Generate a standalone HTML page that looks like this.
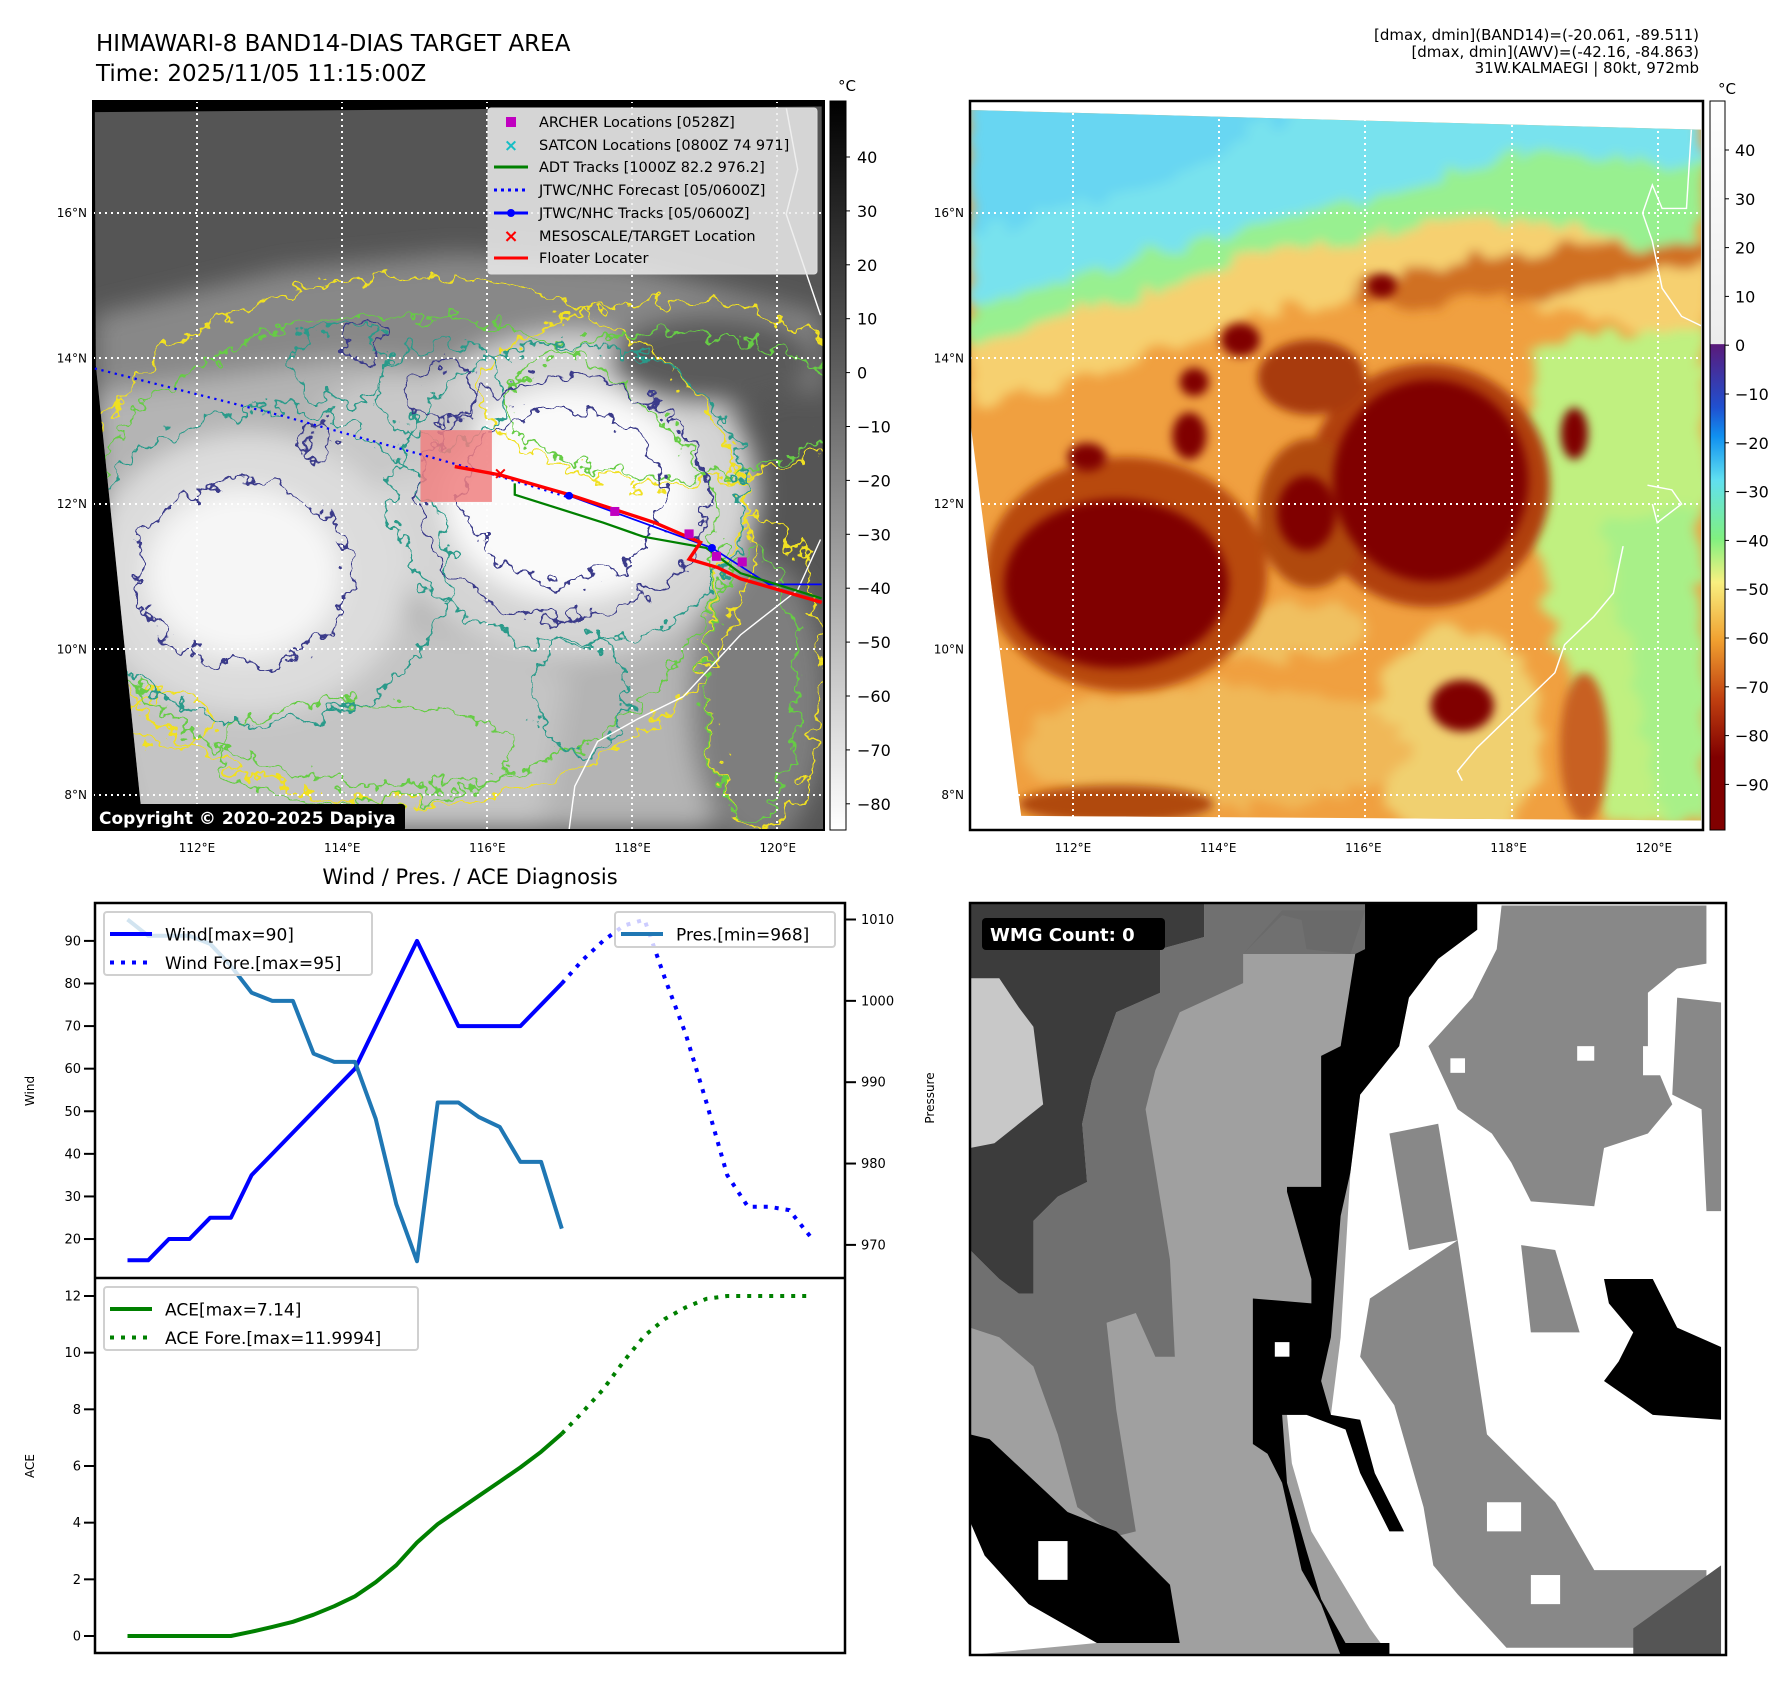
<!DOCTYPE html>
<html><head><meta charset="utf-8"><style>
html,body{margin:0;padding:0;background:#fff}
svg{display:block;font-family:"DejaVu Sans","Liberation Sans",sans-serif}
</style></head><body>
<svg id="fig" width="1788" height="1690" viewBox="0 0 1788 1690" xmlns="http://www.w3.org/2000/svg">
<defs>
<filter id="blur1" x="-20%" y="-20%" width="140%" height="140%"><feGaussianBlur stdDeviation="22"/></filter>
<filter id="blur2" x="-20%" y="-20%" width="140%" height="140%"><feGaussianBlur stdDeviation="10"/></filter>
<filter id="wob" x="-10%" y="-10%" width="120%" height="120%"><feTurbulence type="fractalNoise" baseFrequency="0.03" numOctaves="3" seed="3" result="n"/><feDisplacementMap in="SourceGraphic" in2="n" scale="70" xChannelSelector="R" yChannelSelector="G"/></filter>
<filter id="wob2" x="-10%" y="-10%" width="120%" height="120%"><feTurbulence type="fractalNoise" baseFrequency="0.015" numOctaves="3" seed="7" result="n"/><feDisplacementMap in="SourceGraphic" in2="n" scale="80" xChannelSelector="R" yChannelSelector="G"/><feGaussianBlur stdDeviation="12"/></filter>
<linearGradient id="cbGray" x1="0" y1="0" x2="0" y2="1"><stop offset="0" stop-color="#000"/><stop offset="1" stop-color="#fff"/></linearGradient>
<linearGradient id="cbCol" x1="0" y1="0" x2="0" y2="1">
<stop offset="0" stop-color="#fff"/><stop offset="0.333" stop-color="#ececec"/><stop offset="0.334" stop-color="#5a1a7a"/>
<stop offset="0.42" stop-color="#2050d0"/><stop offset="0.46" stop-color="#1090f0"/><stop offset="0.52" stop-color="#60e0f0"/>
<stop offset="0.6" stop-color="#80f080"/><stop offset="0.66" stop-color="#f8f080"/><stop offset="0.74" stop-color="#f0a030"/>
<stop offset="0.82" stop-color="#c04010"/><stop offset="0.9" stop-color="#800000"/><stop offset="1" stop-color="#800000"/></linearGradient>
<clipPath id="clipL"><polygon points="170,198 1442,188 1446,1478 255,1478 172,650"/></clipPath>
<clipPath id="clipR"><polygon points="0,20 1500,62 1500,1535 105,1525 0,680"/></clipPath>
<clipPath id="clipW"><rect x="0" y="5" width="1550" height="1550"/></clipPath>
</defs>

<text x="96" y="51" font-size="23">HIMAWARI-8 BAND14-DIAS TARGET AREA</text>
<text x="96" y="81" font-size="23">Time: 2025/11/05 11:15:00Z</text>
<g font-size="15" text-anchor="end">
<text x="1699" y="40">[dmax, dmin](BAND14)=(-20.061, -89.511)</text>
<text x="1699" y="57">[dmax, dmin](AWV)=(-42.16, -84.863)</text>
<text x="1699" y="73">31W.KALMAEGI | 80kt, 972mb</text>
</g>

<!-- LEFT MAP -->
<g>
<rect x="93" y="101" width="731" height="729" fill="#000"/>
<g transform="translate(-2.44,1.04) scale(0.5715,0.5609)">
<g clip-path="url(#clipL)">
<rect x="160" y="180" width="1300" height="1310" fill="#555"/>
<g filter="url(#blur1)">
<polygon points="170,560 500,480 800,450 1100,470 1442,560 1442,700 1200,650 900,620 600,700 170,760" fill="#888"/>
<polygon points="170,700 600,640 900,660 1200,760 1300,1000 1250,1478 170,1478" fill="#b4b4b4"/>
<polygon points="170,1150 700,1100 1000,1200 950,1478 250,1478" fill="#c4c4c4"/>
<ellipse cx="1330" cy="1250" rx="120" ry="260" fill="#7e7e7e"/>
<ellipse cx="1000" cy="880" rx="330" ry="290" fill="#d4d4d4"/>
<ellipse cx="440" cy="1020" rx="280" ry="250" fill="#dcdcdc"/>
<ellipse cx="1000" cy="880" rx="220" ry="190" fill="#fafafa"/>
<ellipse cx="430" cy="1020" rx="170" ry="150" fill="#f6f6f6"/>
<ellipse cx="700" cy="760" rx="140" ry="90" fill="#c8c8c8"/>
<ellipse cx="1250" cy="640" rx="180" ry="80" fill="#5a5a5a"/>
</g>
<g fill="none" stroke-width="4" filter="url(#wob)">
<ellipse cx="720" cy="960" rx="600" ry="470" stroke="#f0e020"/>
<ellipse cx="1180" cy="700" rx="330" ry="160" stroke="#f0e020"/>
<ellipse cx="1340" cy="1200" rx="100" ry="280" stroke="#f0e020"/>
<ellipse cx="300" cy="1280" rx="70" ry="50" stroke="#f0e020"/>
<ellipse cx="700" cy="980" rx="560" ry="420" stroke="#66cc44"/>
<ellipse cx="1180" cy="720" rx="290" ry="130" stroke="#66cc44"/>
<ellipse cx="1320" cy="1220" rx="80" ry="240" stroke="#66cc44"/>
<ellipse cx="640" cy="1340" rx="260" ry="90" stroke="#66cc44"/>
<ellipse cx="470" cy="1010" rx="320" ry="280" stroke="#2a9a8a"/>
<ellipse cx="1000" cy="880" rx="310" ry="270" stroke="#2a9a8a"/>
<ellipse cx="780" cy="700" rx="110" ry="90" stroke="#2a9a8a"/>
<ellipse cx="1020" cy="1240" rx="80" ry="100" stroke="#2a9a8a"/>
<ellipse cx="600" cy="650" rx="80" ry="70" stroke="#2a9a8a"/>
<ellipse cx="990" cy="885" rx="250" ry="215" stroke="#3a3a8a"/>
<ellipse cx="990" cy="880" rx="175" ry="155" stroke="#3a3a8a"/>
<ellipse cx="430" cy="1020" rx="185" ry="165" stroke="#3a3a8a"/>
<ellipse cx="560" cy="790" rx="30" ry="35" stroke="#3a3a8a"/>
<ellipse cx="640" cy="610" rx="30" ry="30" stroke="#3a3a8a"/>
<ellipse cx="780" cy="700" rx="60" ry="50" stroke="#3a3a8a"/>
</g>
<g fill="none" stroke="#fff" stroke-width="2.5">
<polyline points="1440,960 1400,1050 1350,1090 1300,1130 1200,1240 1120,1280 1050,1320 1010,1400 1000,1478"/>
<polyline points="1380,190 1400,300 1380,380 1420,500 1440,560"/>
</g>
</g>
</g>
<g stroke="#fff" stroke-width="2" stroke-dasharray="2,4">
<line x1="197" y1="101" x2="197" y2="830"/><line x1="342" y1="101" x2="342" y2="830"/><line x1="487" y1="101" x2="487" y2="830"/><line x1="632" y1="101" x2="632" y2="830"/><line x1="777" y1="101" x2="777" y2="830"/>
<line x1="93" y1="213" x2="824" y2="213"/><line x1="93" y1="358" x2="824" y2="358"/><line x1="93" y1="504" x2="824" y2="504"/><line x1="93" y1="649" x2="824" y2="649"/><line x1="93" y1="795" x2="824" y2="795"/>
</g>
<g transform="translate(-2.44,1.04) scale(0.5715,0.5609)">
<rect x="740" y="765" width="125" height="128" fill="#f08080" opacity="0.85"/>
<polyline points="170,655 500,740 870,845 1000,885" fill="none" stroke="#0000ff" stroke-width="4" stroke-dasharray="4,8"/>
<polyline points="1000,882 1250,975 1350,1040 1442,1040" fill="none" stroke="#0000ff" stroke-width="3"/>
<polyline points="905,860 905,880 1060,930 1130,955 1240,975 1300,1020 1442,1065" fill="none" stroke="#008000" stroke-width="4"/>
<polyline points="800,830 880,845 1000,880 1150,930 1230,965 1210,995 1260,1010 1300,1030 1442,1072" fill="none" stroke="#ff0000" stroke-width="6"/>
<g fill="#c000c0"><rect x="1072" y="902" width="16" height="16"/><rect x="1202" y="942" width="16" height="16"/><rect x="1250" y="982" width="16" height="16"/><rect x="1295" y="992" width="16" height="16"/></g>
<g fill="#0000ff"><circle cx="1000" cy="882" r="7"/><circle cx="1250" cy="975" r="7"/></g>
<text x="880" y="852" font-size="30" fill="#ff0000" text-anchor="middle" font-weight="bold">×</text>
</g>
<rect x="93" y="804" width="312" height="27" rx="3" fill="#000"/>
<text x="99" y="824" font-size="17" font-weight="bold" fill="#fff">Copyright © 2020-2025 Dapiya</text>
<rect x="93" y="101" width="731" height="729" fill="none" stroke="#000" stroke-width="2"/>
</g>
<g font-size="14.5">
<rect x="488" y="108" width="329" height="166" rx="3" fill="#ececec" fill-opacity="0.85" stroke="#ddd"/>
<rect x="506" y="117" width="10" height="10" fill="#c000c0"/><text x="539" y="127">ARCHER Locations [0528Z]</text>
<text x="511" y="151" fill="#17bec5" text-anchor="middle" font-weight="bold" font-size="17">×</text><text x="539" y="150">SATCON Locations [0800Z 74 971]</text>
<line x1="494" y1="167" x2="528" y2="167" stroke="#008000" stroke-width="3"/><text x="539" y="172">ADT Tracks [1000Z 82.2 976.2]</text>
<line x1="494" y1="190" x2="528" y2="190" stroke="#0000ff" stroke-width="3" stroke-dasharray="3,4"/><text x="539" y="195">JTWC/NHC Forecast [05/0600Z]</text>
<line x1="494" y1="213" x2="528" y2="213" stroke="#0000ff" stroke-width="3"/><circle cx="511" cy="213" r="4" fill="#0000ff"/><text x="539" y="218">JTWC/NHC Tracks [05/0600Z]</text>
<text x="511" y="242" fill="#ff0000" text-anchor="middle" font-weight="bold" font-size="18">×</text><text x="539" y="241">MESOSCALE/TARGET Location</text>
<line x1="494" y1="258" x2="528" y2="258" stroke="#ff0000" stroke-width="3"/><text x="539" y="263">Floater Locater</text>
</g>
<g>
<rect x="830" y="101" width="16" height="729" fill="url(#cbGray)" stroke="#000" stroke-width="1"/>
<text x="838" y="91" font-size="15">°C</text>
<g id="cbLticks" font-size="16"></g>
</g>
<g id="lblL" font-size="12"></g>

<!-- RIGHT MAP -->
<g>
<rect x="970" y="101" width="733" height="729" fill="#fff"/>
<g transform="translate(970,100.6) scale(0.4874,0.469)">
<g clip-path="url(#clipR)">
<rect x="0" y="0" width="1510" height="1560" fill="#f0a040"/>
<g filter="url(#wob2)">
<polygon points="0,0 1510,0 1510,540 1300,470 1050,400 820,420 600,460 400,520 200,600 0,660" fill="#f6d070"/>
<polygon points="0,0 1510,0 1510,330 1200,270 1000,240 800,300 600,320 400,400 200,460 0,520" fill="#98f090"/>
<polygon points="0,0 1510,0 1510,140 1200,110 1000,150 800,220 600,260 400,320 200,380 0,440" fill="#78e2ee"/>
<polygon points="0,0 700,0 500,120 300,200 0,280" fill="#68d6f2"/>
<polygon points="1160,520 1510,480 1510,1540 1300,1540 1220,1200 1140,900" fill="#c0f080"/>
<polygon points="1300,900 1510,850 1510,1540 1420,1540" fill="#a8f088"/>
<ellipse cx="1150" cy="370" rx="380" ry="45" fill="#d07020" transform="rotate(-8 1150 370)"/>
<ellipse cx="1000" cy="1350" rx="180" ry="230" fill="#f0d070"/>
<ellipse cx="500" cy="1380" rx="400" ry="130" fill="#f0b858"/>
<ellipse cx="650" cy="1130" rx="180" ry="60" fill="#f0c060"/>
</g>
<g filter="url(#blur2)">
<ellipse cx="940" cy="820" rx="250" ry="260" fill="#b04010"/>
<ellipse cx="320" cy="1010" rx="290" ry="250" fill="#b84a10"/>
<ellipse cx="700" cy="880" rx="110" ry="160" fill="#b04a10"/>
<ellipse cx="700" cy="590" rx="110" ry="80" fill="#a83a08"/>
<ellipse cx="300" cy="1500" rx="200" ry="40" fill="#b04a10"/>
<ellipse cx="1260" cy="1380" rx="50" ry="160" fill="#c86020"/>
</g>
<g fill="#800000" filter="url(#blur2)">
<ellipse cx="945" cy="810" rx="200" ry="215"/>
<ellipse cx="300" cy="1030" rx="230" ry="180"/>
<ellipse cx="845" cy="395" rx="30" ry="25"/>
<ellipse cx="555" cy="510" rx="40" ry="35"/>
<ellipse cx="450" cy="715" rx="35" ry="50"/>
<ellipse cx="460" cy="600" rx="30" ry="30"/>
<ellipse cx="1010" cy="1290" rx="65" ry="55"/>
<ellipse cx="1240" cy="710" rx="28" ry="55"/>
<ellipse cx="690" cy="880" rx="60" ry="80"/>
<ellipse cx="240" cy="760" rx="40" ry="30"/>
</g>
<g fill="none" stroke="#fff" stroke-width="3">
<polyline points="1480,62 1470,230 1420,230 1400,180 1380,240 1400,300 1420,400 1460,460 1500,480"/>
<polyline points="1340,950 1320,1050 1280,1100 1220,1160 1200,1220 1100,1320 1040,1380 1000,1430 1010,1450"/>
<polyline points="1390,820 1440,830 1460,860 1410,900 1400,860"/>
</g>
</g>
</g>
<g stroke="#fff" stroke-width="2" stroke-dasharray="2,4">
<line x1="1073" y1="101" x2="1073" y2="830"/><line x1="1219" y1="101" x2="1219" y2="830"/><line x1="1365" y1="101" x2="1365" y2="830"/><line x1="1512" y1="101" x2="1512" y2="830"/><line x1="1658" y1="101" x2="1658" y2="830"/>
<line x1="970" y1="213" x2="1703" y2="213"/><line x1="970" y1="358" x2="1703" y2="358"/><line x1="970" y1="504" x2="1703" y2="504"/><line x1="970" y1="649" x2="1703" y2="649"/><line x1="970" y1="795" x2="1703" y2="795"/>
</g>
<rect x="970" y="101" width="733" height="729" fill="none" stroke="#000" stroke-width="2.5"/>
</g>
<g>
<rect x="1710" y="101" width="15" height="729" fill="url(#cbCol)" stroke="#000" stroke-width="1"/>
<text x="1718" y="94" font-size="15">°C</text>
<g id="cbRticks" font-size="16"></g>
</g>
<g id="lblR" font-size="12"></g>

<text x="470" y="884" font-size="21" text-anchor="middle">Wind / Pres. / ACE Diagnosis</text>
<g id="diag"></g>

<!-- WMG panel -->
<g>
<g transform="translate(970,900.6) scale(0.4877,0.4852)" clip-path="url(#clipW)">
<rect x="0" y="0" width="1560" height="1560" fill="#a0a0a0"/>
<polygon points="0,0 480,0 480,75 390,100 390,190 300,230 250,370 230,460 240,580 180,610 130,660 130,810 100,810 60,780 0,720" fill="#3c3c3c"/>
<polygon points="480,0 820,0 810,110 560,110 560,170 430,230 380,350 360,430 410,740 420,940 380,940 340,850 280,870 300,1050 340,1300 300,1310 220,1250 180,1100 130,960 60,900 0,880 0,720 60,780 100,810 130,810 130,660 180,610 240,580 230,460 250,370 300,230 390,190 390,100 480,75" fill="#707070"/>
<polygon points="560,110 640,20 810,20 780,110 690,100 680,40 640,30" fill="#6a6a6a"/>
<polygon points="0,160 60,160 100,220 130,260 150,420 100,460 50,500 0,510" fill="#c8c8c8"/>
<polygon points="1040,0 1550,0 1550,1555 860,1555 820,1500 760,1400 700,1300 660,1160 650,1060 740,1060 760,900 780,560 800,400 880,300 900,200 960,120 1040,60" fill="#fff"/>
<polygon points="810,0 1040,0 1040,60 960,120 900,200 880,300 800,400 780,560 760,650 740,900 720,990 740,1060 800,1070 830,1180 890,1300 860,1300 800,1180 770,1090 690,1060 640,1060 650,1200 690,1340 720,1440 770,1530 860,1530 860,1555 760,1555 720,1450 680,1380 640,1200 610,1140 580,1120 580,820 700,830 700,780 650,600 650,590 720,590 720,320 760,300 790,110 810,100" fill="#000"/>
<polygon points="1090,10 1510,10 1510,130 1450,140 1390,190 1390,300 1440,420 1390,480 1300,510 1280,630 1150,620 1110,540 1070,480 1000,430 940,300 1030,200 1080,100" fill="#888"/>
<polygon points="1450,200 1540,210 1540,640 1510,640 1500,430 1440,400" fill="#888"/>
<polygon points="820,820 1000,700 1030,900 1060,1100 1200,1240 1280,1380 1510,1380 1510,1540 1100,1540 1000,1430 950,1370 930,1250 870,1040 800,940" fill="#888"/>
<polygon points="860,480 960,460 1000,700 900,720" fill="#888"/>
<polygon points="1130,710 1200,720 1250,890 1150,890" fill="#888"/>
<polygon points="1300,780 1400,780 1450,880 1540,920 1540,1070 1400,1060 1300,990 1330,950 1360,890 1310,830" fill="#000"/>
<polygon points="1360,1500 1540,1370 1540,1555 1360,1555" fill="#555"/>
<polygon points="0,1100 40,1110 200,1260 300,1300 410,1410 430,1530 260,1530 120,1450 30,1350 0,1280" fill="#000"/>
<polygon points="0,1280 30,1350 120,1450 260,1530 0,1555" fill="#fff"/>
<rect x="140" y="1320" width="60" height="80" fill="#fff"/>
<rect x="625" y="910" width="30" height="30" fill="#fff"/>
<rect x="1245" y="300" width="35" height="30" fill="#fff"/>
<rect x="985" y="325" width="30" height="30" fill="#fff"/>
<rect x="1380" y="300" width="60" height="60" fill="#fff"/>
<rect x="1060" y="1240" width="70" height="60" fill="#fff"/>
<rect x="1150" y="1390" width="60" height="60" fill="#fff"/>
</g>
<rect x="982" y="918" width="183" height="32" rx="4" fill="#000"/>
<text x="990" y="941" font-size="18" font-weight="bold" fill="#fff">WMG Count: 0</text>
<rect x="970" y="903" width="756" height="752" fill="none" stroke="#000" stroke-width="2.5"/>
</g>

<script>
const windObs = [15,15,20,20,25,25,35,40,45,50,55,60,70,80,90,80,70,70,70,70,75,80];
const windFore = [80,85.5,90,93.6,95,81,68,52,35,27.6,27.6,26.8,20.7];
const presObs = [1010,1008,1008,1008,1007,1004.3,1001,1000,1000,993.5,992.5,992.5,985.5,975,968,987.5,987.5,985.7,984.5,980.2,980.2,972];
const aceObs = [0,0,0,0,0,0,0.15,0.32,0.5,0.75,1.05,1.4,1.9,2.5,3.3,3.95,4.45,4.95,5.45,5.95,6.5,7.14];
const aceFore = [7.14,7.9,8.7,9.7,10.6,11.2,11.6,11.9,12,12,12,12,12];
const windTicks = [20,30,40,50,60,70,80,90];
const presTicks = [970,980,990,1000,1010];
const aceTicks = [0,2,4,6,8,10,12];
const foreStart = 21;
const irTicks = [40,30,20,10,0,-10,-20,-30,-40,-50,-60,-70,-80];
const awvTicks = [40,30,20,10,0,-10,-20,-30,-40,-50,-60,-70,-80,-90];
const latTicks = [16,14,12,10,8];
const lonTicks = [112,114,116,118,120];

const NS = 'http://www.w3.org/2000/svg';
function mk(tag, attrs, parent){const e=document.createElementNS(NS,tag);for(const k in attrs)e.setAttribute(k,attrs[k]);parent.appendChild(e);return e;}

const L=95,R=845,T1=903,B1=1278,T2=1278,B2=1653;
const xs = i => 127.5 + i*20.68;
const yWind = v => T1 + (98.9 - v)/(98.9-10.85)*(B1-T1);
const yPres = v => T1 + (1012.03 - v)/(1012.03-965.93)*(B1-T1);
const yAce = v => T2 + (12.635 - v)/(12.635+0.6)*(B2-T2);

const diag = document.getElementById('diag');
function series(vals, off, yf, color, dash, name){
  const pts = vals.map((v,i)=>xs(i+off).toFixed(1)+','+yf(v).toFixed(1)).join(' ');
  const p = mk('polyline',{points:pts,fill:'none',stroke:color,'stroke-width':4,'stroke-linejoin':'round'},diag);
  if(dash) p.setAttribute('stroke-dasharray',dash);
  
  
}
series(windObs,0,yWind,'#0000ff',null,'wind-line');
series(windFore,foreStart,yWind,'#0000ff','4,7','wind-forecast-line');
series(presObs,0,yPres,'#1f77b4',null,'pressure-line');
series(aceObs,0,yAce,'#008000',null,'ace-line');
series(aceFore,foreStart,yAce,'#008000','4,7','ace-forecast-line');

mk('rect',{x:L,y:T1,width:R-L,height:B2-T1,fill:'none',stroke:'#000','stroke-width':2.5},diag);
mk('line',{x1:L,y1:B1,x2:R,y2:B1,stroke:'#000','stroke-width':2.5},diag);

function tickL(v,yf,name){
  const y=yf(v);
  mk('line',{x1:L-11,y1:y,x2:L,y2:y,stroke:'#000','stroke-width':2},diag);
  const t=mk('text',{x:L-14,y:y+4.5,'font-size':13,'text-anchor':'end'},diag);t.textContent=v;
  
  
}
windTicks.forEach(v=>tickL(v,yWind,'wind-tick-label'));
aceTicks.forEach(v=>tickL(v,yAce,'ace-tick-label'));
presTicks.forEach(v=>{
  const y=yPres(v);
  mk('line',{x1:R,y1:y,x2:R+11,y2:y,stroke:'#000','stroke-width':2},diag);
  const t=mk('text',{x:R+16,y:y+4.5,'font-size':13},diag);t.textContent=v;
  
  
});
let t;
t=mk('text',{x:0,y:0,'font-size':12,'text-anchor':'middle',transform:'translate(34,1091) rotate(-90)'},diag);t.textContent='Wind';


t=mk('text',{x:0,y:0,'font-size':12,'text-anchor':'middle',transform:'translate(34,1466) rotate(-90)'},diag);t.textContent='ACE';


t=mk('text',{x:0,y:0,'font-size':12,'text-anchor':'middle',transform:'translate(934,1098) rotate(-90)'},diag);t.textContent='Pressure';



function legend(x,y,w,h,rows,name){
  const g=mk('g',{},diag);
  
  
  mk('rect',{x:x,y:y,width:w,height:h,rx:3,fill:'#fff','fill-opacity':0.8,stroke:'#d0d0d0','stroke-width':2},g);
  rows.forEach((r,i)=>{
    const cy=y+22+i*28.5;
    const ln=mk('line',{x1:x+6,y1:cy,x2:x+48,y2:cy,stroke:r[1],'stroke-width':4},g);
    if(r[2]) ln.setAttribute('stroke-dasharray','4,7');
    const tt=mk('text',{x:x+61,y:cy+6.5,'font-size':17},g);tt.textContent=r[0];
  });
}
legend(104,912,268,63,[['Wind[max=90]','#0000ff',0],['Wind Fore.[max=95]','#0000ff',1]],'wind-legend');
legend(615,912,220,35,[['Pres.[min=968]','#1f77b4',0]],'pressure-legend');
legend(104,1287,314,63,[['ACE[max=7.14]','#008000',0],['ACE Fore.[max=11.9994]','#008000',1]],'ace-legend');

const cbL=document.getElementById('cbLticks');
irTicks.forEach((v,i)=>{const y=157+i*53.9;
  mk('line',{x1:846,y1:y,x2:850,y2:y,stroke:'#000'},cbL);
  const tx=mk('text',{x:857,y:y+6},cbL);tx.textContent=(v<0?'\u2212'+(-v):v);
  
  });
const cbR=document.getElementById('cbRticks');
awvTicks.forEach((v,i)=>{const y=150+i*48.8;
  mk('line',{x1:1725,y1:y,x2:1729,y2:y,stroke:'#000'},cbR);
  const tx=mk('text',{x:1735,y:y+6},cbR);tx.textContent=(v<0?'\u2212'+(-v):v);
  
  });

function latlon(gid,x0,lonX0){
  const g=document.getElementById(gid);
  latTicks.forEach(v=>{const y=795-(v-8)*72.75;
    const tx=mk('text',{x:x0-6,y:y+4,'text-anchor':'end'},g);tx.textContent=v+'°N';
    
    });
  lonTicks.forEach(v=>{const x=lonX0+(v-112)*72.6;
    const tx=mk('text',{x:x,y:852,'text-anchor':'middle'},g);tx.textContent=v+'°E';
    
    });
}
latlon('lblL',93,197);
latlon('lblR',970,1073);
</script>
</svg>
</body></html>
